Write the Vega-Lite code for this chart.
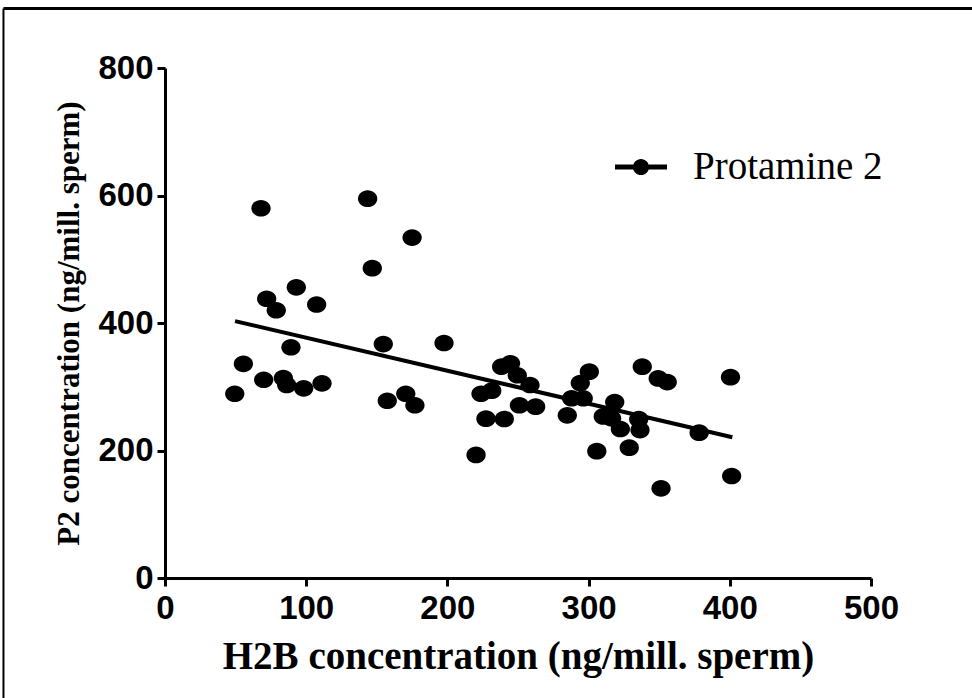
{
  "$schema": "https://vega.github.io/schema/vega-lite/v6.json",
  "width": 706,
  "height": 510,
  "autosize": "none",
  "padding": {"left": 165, "top": 68, "right": 101, "bottom": 120},
  "background": "white",
  "config": {
    "view": {"stroke": null},
    "axis": {"grid": false, "domainColor": "black", "domainWidth": 3, "tickColor": "black", "tickWidth": 3, "tickSize": 8, "labelFont": "Liberation Sans", "labelFontWeight": "bold", "labelFontSize": 33, "labelColor": "black", "labelFlush": false, "labelOverlap": false, "titleFont": "Liberation Serif", "titleFontWeight": "bold", "titleColor": "black"}
  },
  "datasets": {
    "points": [
      {"h2b": 68, "p2": 580, "series": "Protamine 2"},
      {"h2b": 143.5, "p2": 595, "series": "Protamine 2"},
      {"h2b": 175, "p2": 534, "series": "Protamine 2"},
      {"h2b": 146.8, "p2": 486, "series": "Protamine 2"},
      {"h2b": 93, "p2": 456, "series": "Protamine 2"},
      {"h2b": 72, "p2": 438, "series": "Protamine 2"},
      {"h2b": 78.8, "p2": 420, "series": "Protamine 2"},
      {"h2b": 107.4, "p2": 429, "series": "Protamine 2"},
      {"h2b": 89.2, "p2": 362, "series": "Protamine 2"},
      {"h2b": 154.6, "p2": 367, "series": "Protamine 2"},
      {"h2b": 197.6, "p2": 368.6, "series": "Protamine 2"},
      {"h2b": 55.5, "p2": 336, "series": "Protamine 2"},
      {"h2b": 69.9, "p2": 311, "series": "Protamine 2"},
      {"h2b": 83.8, "p2": 313.7, "series": "Protamine 2"},
      {"h2b": 86.2, "p2": 302.7, "series": "Protamine 2"},
      {"h2b": 98.2, "p2": 297.5, "series": "Protamine 2"},
      {"h2b": 111.2, "p2": 305.4, "series": "Protamine 2"},
      {"h2b": 49.4, "p2": 289, "series": "Protamine 2"},
      {"h2b": 157.4, "p2": 278, "series": "Protamine 2"},
      {"h2b": 170.5, "p2": 289, "series": "Protamine 2"},
      {"h2b": 177, "p2": 271, "series": "Protamine 2"},
      {"h2b": 223.8, "p2": 289, "series": "Protamine 2"},
      {"h2b": 231.4, "p2": 293.8, "series": "Protamine 2"},
      {"h2b": 227.3, "p2": 250, "series": "Protamine 2"},
      {"h2b": 238.4, "p2": 331.5, "series": "Protamine 2"},
      {"h2b": 244.7, "p2": 336.8, "series": "Protamine 2"},
      {"h2b": 249.5, "p2": 318, "series": "Protamine 2"},
      {"h2b": 258.5, "p2": 302.7, "series": "Protamine 2"},
      {"h2b": 251, "p2": 271, "series": "Protamine 2"},
      {"h2b": 262.5, "p2": 268.7, "series": "Protamine 2"},
      {"h2b": 240.3, "p2": 249.4, "series": "Protamine 2"},
      {"h2b": 220.3, "p2": 193, "series": "Protamine 2"},
      {"h2b": 300.5, "p2": 323.6, "series": "Protamine 2"},
      {"h2b": 294.1, "p2": 305.9, "series": "Protamine 2"},
      {"h2b": 288, "p2": 282, "series": "Protamine 2"},
      {"h2b": 296.2, "p2": 282, "series": "Protamine 2"},
      {"h2b": 284.9, "p2": 255.2, "series": "Protamine 2"},
      {"h2b": 310.4, "p2": 253.5, "series": "Protamine 2"},
      {"h2b": 318.5, "p2": 276, "series": "Protamine 2"},
      {"h2b": 316.3, "p2": 250.5, "series": "Protamine 2"},
      {"h2b": 322.5, "p2": 233.7, "series": "Protamine 2"},
      {"h2b": 335.5, "p2": 249.2, "series": "Protamine 2"},
      {"h2b": 336.4, "p2": 232.1, "series": "Protamine 2"},
      {"h2b": 305.8, "p2": 199, "series": "Protamine 2"},
      {"h2b": 328.8, "p2": 204.4, "series": "Protamine 2"},
      {"h2b": 338, "p2": 331.5, "series": "Protamine 2"},
      {"h2b": 349.3, "p2": 313, "series": "Protamine 2"},
      {"h2b": 355.7, "p2": 307.3, "series": "Protamine 2"},
      {"h2b": 378.3, "p2": 228, "series": "Protamine 2"},
      {"h2b": 351.3, "p2": 140.7, "series": "Protamine 2"},
      {"h2b": 400.5, "p2": 315, "series": "Protamine 2"},
      {"h2b": 401.3, "p2": 160, "series": "Protamine 2"}
    ],
    "fit": [
      {"h2b": 49.6, "p2": 403},
      {"h2b": 401.8, "p2": 220.7}
    ]
  },
  "layer": [
    {
      "data": {"values": [{}]},
      "mark": {"type": "rule", "color": "black", "strokeWidth": 2},
      "encoding": {
        "x": {"datum": -114.4, "type": "quantitative"},
        "y": {"datum": 893.3, "type": "quantitative"},
        "y2": {"datum": -190}
      }
    },
    {
      "data": {"values": [{}]},
      "mark": {"type": "rule", "color": "black", "strokeWidth": 3},
      "encoding": {
        "x": {"datum": -114.4, "type": "quantitative"},
        "x2": {"datum": 572},
        "y": {"datum": 893.3, "type": "quantitative"}
      }
    },
    {
      "data": {"name": "fit"},
      "mark": {"type": "line", "color": "black", "strokeWidth": 4},
      "encoding": {
        "x": {"field": "h2b", "type": "quantitative"},
        "y": {"field": "p2", "type": "quantitative"}
      }
    },
    {
      "data": {"name": "points"},
      "mark": {"type": "point", "filled": true, "opacity": 1, "shape": "M-1,0A1,0.865,0,1,1,1,0A1,0.865,0,1,1,-1,0Z", "size": 372},
      "encoding": {
        "x": {"field": "h2b", "type": "quantitative", "scale": {"domain": [0, 500], "nice": false, "zero": false},
          "axis": {"title": "H2B  concentration (ng/mill. sperm)", "values": [0, 100, 200, 300, 400, 500], "labelPadding": 6, "titleFontSize": 39, "titlePadding": 12}},
        "y": {"field": "p2", "type": "quantitative", "scale": {"domain": [0, 800], "nice": false, "zero": false},
          "axis": {"title": "P2 concentration  (ng/mill. sperm)", "values": [0, 200, 400, 600, 800], "labelPadding": 4, "titleFontSize": 31, "titlePadding": 12}},
        "color": {"field": "series", "type": "nominal", "scale": {"range": ["black"]},
          "legend": {"orient": "none", "legendX": 450, "legendY": 73, "title": null, "padding": 0,
            "symbolType": "M-1,-0.1H1V0.1H-1Z M-0.31,0A0.31,0.31,0,1,1,0.31,0A0.31,0.31,0,1,1,-0.31,0Z",
            "symbolSize": 2704, "symbolFillColor": "black", "symbolStrokeColor": "black", "symbolStrokeWidth": 0, "symbolOpacity": 1,
            "labelFont": "Liberation Serif", "labelFontSize": 39, "labelColor": "black", "labelOffset": 26, "labelLimit": 0}}
      }
    }
  ]
}
